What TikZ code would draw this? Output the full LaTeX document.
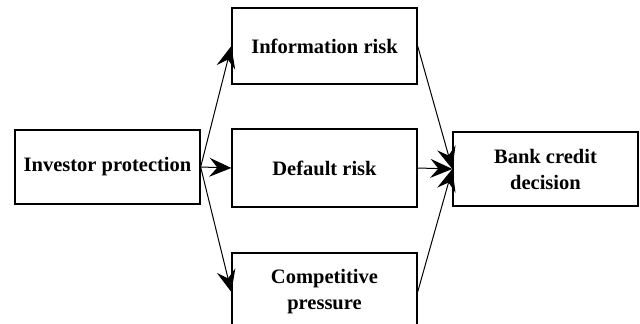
\documentclass[tikz,border=0pt]{standalone}
\usepackage{fontspec}
\setmainfont{Liberation Serif}
\usepackage{tikz}
\usetikzlibrary{arrows.meta}

\begin{document}
\begin{tikzpicture}[x=1pt,y=1pt,
  box/.style={draw,line width=1.3pt,minimum width=185pt,minimum height=76pt,inner sep=0pt,align=center,font=\bfseries\fontsize{20.5}{26}\selectfont},
  arr/.style={-{Stealth[length=22pt,width=19pt,inset=8pt]},line width=1pt}]
\useasboundingbox (0,0) rectangle (640,324);
\node[box,minimum height=74pt] (inv) at (107.5,157) {Investor protection};
\node[box] (info) at (324.5,278) {Information risk};
\node[box,minimum height=78pt] (dflt) at (324.5,156) {Default risk};
\node[box,minimum height=78pt] (comp) at (324.5,32) {Competitive\\pressure};
\node[box,minimum height=74pt] (bank) at (545.5,155) {Bank credit\\decision};
\draw[arr] (inv.east) -- (info.west);
\draw[arr] (inv.east) -- (dflt.west);
\draw[arr] (inv.east) -- (comp.west);
\draw[arr] (info.east) -- (bank.west);
\draw[arr] (dflt.east) -- (bank.west);
\draw[arr] (comp.east) -- (bank.west);
\end{tikzpicture}
\end{document}
